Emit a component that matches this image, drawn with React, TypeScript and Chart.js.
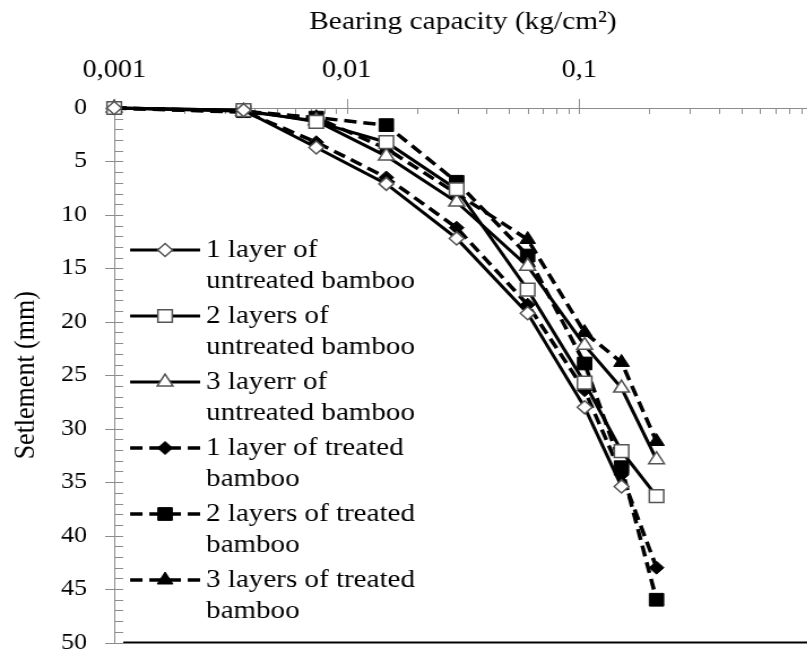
import React, { useEffect, useRef } from "react";
import { Chart, registerables } from "chart.js";

Chart.register(...registerables);

// ---- data ----
const LOADS = [0.001, 0.0036, 0.0074, 0.0148, 0.0297, 0.06, 0.1055, 0.152, 0.215];
const UNTREATED_1 = [0, 0.2, 3.7, 7.1, 12.2, 19.2, 28.0, 35.4];
const UNTREATED_2 = [0, 0.2, 1.3, 3.2, 7.6, 17.0, 25.7, 32.1, 36.3];
const UNTREATED_3 = [0, 0.3, 1.2, 4.5, 8.8, 14.8, 22.2, 26.2, 32.9];
const TREATED_1 = [0, 0.3, 3.2, 6.5, 11.2, 18.4, 26.4, 34.3, 43.0];
const TREATED_2 = [0, 0.3, 0.9, 1.6, 6.9, 13.8, 23.9, 33.6, 46.0];
const TREATED_3 = [0, 0.4, 0.9, 3.8, 8.0, 12.3, 21.0, 23.8, 31.2];

const SERIES_LABELS = [
  "1 layer of untreated bamboo",
  "2 layers of untreated bamboo",
  "3 layerr of untreated bamboo",
  "1 layer of treated bamboo",
  "2 layers of treated bamboo",
  "3 layers of treated bamboo",
];
const LEGEND_LINES = [
  ["1 layer of", "untreated bamboo"],
  ["2 layers of", "untreated bamboo"],
  ["3 layerr of", "untreated bamboo"],
  ["1 layer of treated", "bamboo"],
  ["2 layers of treated", "bamboo"],
  ["3 layers of treated", "bamboo"],
];
const X_TICK_VALUES = [0.001, 0.01, 0.1, 1];
const X_TICK_LABELS = ["0,001", "0,01", "0,1", "1"];
const Y_TICK_VALUES = [0, 5, 10, 15, 20, 25, 30, 35, 40, 45, 50];
const X_TITLE = "Bearing capacity (kg/cm\u00B2)";
const Y_TITLE = "Setlement (mm)";

// ---- layout / style ----
const S = 1.13; // horizontal stretch of the original picture
const DISPLAY_W = 840;
const H = 653;
const INT_W = Math.round(DISPLAY_W / S);
const FONT = '"Liberation Serif", "Times New Roman", serif';
const AXIS_COLOR = "#8c8c8c";

function drawMarker(ctx: CanvasRenderingContext2D, style: string, x: number, y: number, r: number, fill: string, stroke: string, bw: number) {
  ctx.beginPath();
  if (style === "rect") {
    const s = Math.SQRT1_2 * r;
    ctx.rect(x - s, y - s, 2 * s, 2 * s);
  } else if (style === "rectRot") {
    ctx.moveTo(x - r, y);
    ctx.lineTo(x, y - r);
    ctx.lineTo(x + r, y);
    ctx.lineTo(x, y + r);
    ctx.closePath();
  } else {
    const a = Math.sin((2 * Math.PI) / 3) * r;
    ctx.moveTo(x, y - r);
    ctx.lineTo(x + a, y + r / 2);
    ctx.lineTo(x - a, y + r / 2);
    ctx.closePath();
  }
  ctx.fillStyle = fill;
  ctx.fill();
  ctx.lineWidth = bw;
  ctx.strokeStyle = stroke;
  ctx.setLineDash([]);
  ctx.stroke();
}

const tickPlugin = {
  id: "axisTicks",
  beforeDatasetsDraw(chart: any) {
    const { ctx, chartArea: a, scales } = chart;
    const xs = scales.x;
    const ys = scales.y;
    ctx.save();
    ctx.strokeStyle = AXIS_COLOR;
    ctx.lineWidth = 1;
    ctx.beginPath();
    for (let d = -3; d <= 0; d++) {
      for (let k = 1; k <= 9; k++) {
        const v = k * Math.pow(10, d);
        if (v > 1.0000001) break;
        const px = Math.round(xs.getPixelForValue(v)) + 0.5;
        if (k === 1) {
          ctx.moveTo(px, a.top - 9);
          ctx.lineTo(px, a.top + 6);
        } else {
          ctx.moveTo(px, a.top);
          ctx.lineTo(px, a.top + 6);
        }
      }
    }
    for (let v = 0; v <= 50; v++) {
      const py = Math.round(ys.getPixelForValue(v)) + 0.5;
      const inner = a.left + 9 / S;
      if (v % 5 === 0) {
        ctx.moveTo(a.left - 9 / S, py);
        ctx.lineTo(inner, py);
      } else {
        ctx.moveTo(a.left, py);
        ctx.lineTo(inner, py);
      }
    }
    ctx.stroke();
    // bottom frame line
    const yb = ys.getPixelForValue(50);
    ctx.strokeStyle = "#000";
    ctx.lineWidth = 2;
    ctx.beginPath();
    ctx.moveTo(a.left + 9 / S, yb);
    ctx.lineTo(a.right, yb);
    ctx.stroke();
    ctx.restore();
  },
};

const legendPlugin = {
  id: "innerLegend",
  afterDatasetsDraw(chart: any) {
    const { ctx } = chart;
    const top = 250;
    const step = 66;
    const lineH = 31.5;
    ctx.save();
    ctx.font = `25.7px ${FONT}`;
    ctx.textBaseline = "middle";
    ctx.textAlign = "left";
    chart.data.datasets.forEach((ds: any, i: number) => {
      const y = top + i * step;
      ctx.strokeStyle = "#000";
      ctx.lineWidth = ds.borderWidth;
      ctx.setLineDash(ds.borderDash || []);
      ctx.beginPath();
      ctx.moveTo(130 / S, y);
      ctx.lineTo(200 / S, y);
      ctx.stroke();
      drawMarker(ctx, ds.pointStyle, 165 / S, y, ds.pointRadius, ds.pointBackgroundColor, ds.pointBorderColor, ds.pointBorderWidth);
      ctx.fillStyle = "#000";
      LEGEND_LINES[i].forEach((t, j) => ctx.fillText(t, 206 / S, y + j * lineH));
    });
    ctx.restore();
  },
};

function makeDataset(label: string, values: number[], style: string, filled: boolean, dashed: boolean) {
  const radius = style === "rect" ? 9 : style === "rectRot" ? 6.5 : 8;
  return {
    label,
    data: values.map((y, i) => ({ x: LOADS[i], y })),
    borderColor: "#000",
    borderWidth: dashed ? 3.5 : 3,
    borderDash: dashed ? [11, 6] : [],
    pointStyle: style,
    pointRadius: radius,
    pointHoverRadius: radius,
    pointBackgroundColor: filled ? "#000" : "#fff",
    pointBorderColor: filled ? "#000" : "#555",
    pointBorderWidth: filled ? 1 : 1.5,
    tension: 0,
    clip: false,
  };
}

export default function App() {
  const ref = useRef<HTMLCanvasElement | null>(null);

  useEffect(() => {
    if (!ref.current) return;
    const chart = new Chart(ref.current, {
      type: "line",
      data: {
        datasets: [
          makeDataset(SERIES_LABELS[0], UNTREATED_1, "rectRot", false, false),
          makeDataset(SERIES_LABELS[1], UNTREATED_2, "rect", false, false),
          makeDataset(SERIES_LABELS[2], UNTREATED_3, "triangle", false, false),
          makeDataset(SERIES_LABELS[3], TREATED_1, "rectRot", true, true),
          makeDataset(SERIES_LABELS[4], TREATED_2, "rect", true, true),
          makeDataset(SERIES_LABELS[5], TREATED_3, "triangle", true, true),
        ] as any,
      },
      options: {
        responsive: false,
        maintainAspectRatio: false,
        devicePixelRatio: 1,
        animation: false,
        events: [],
        layout: { padding: { left: 0, right: INT_W - 718, top: 0, bottom: 10 } },
        plugins: {
          legend: { display: false },
          tooltip: { enabled: false },
          title: { display: false },
        },
        scales: {
          x: {
            type: "logarithmic",
            position: "top",
            min: 0.001,
            max: 1,
            afterBuildTicks: (scale: any) => {
              scale.ticks = X_TICK_VALUES.map((v) => ({ value: v, major: true }));
            },
            afterFit: (scale: any) => {
              scale.height = 108;
              scale.paddingLeft = 0;
              scale.paddingRight = 0;
            },
            ticks: {
              autoSkip: false,
              maxRotation: 0,
              minRotation: 0,
              padding: 23,
              color: "#000",
              font: { family: FONT, size: 25 },
              callback: (_v: any, i: number) => X_TICK_LABELS[i],
            },
            grid: { display: true, drawOnChartArea: false, drawTicks: false },
            border: { display: true, color: AXIS_COLOR, width: 1 },
            title: {
              display: true,
              text: X_TITLE,
              color: "#000",
              font: { family: FONT, size: 26 },
              padding: { top: 7, bottom: 0 },
            },
          },
          y: {
            type: "linear",
            reverse: true,
            min: 0,
            max: 50,
            afterBuildTicks: (scale: any) => {
              scale.ticks = Y_TICK_VALUES.map((v) => ({ value: v }));
            },
            afterFit: (scale: any) => {
              scale.width = 101;
              scale.paddingTop = 0;
              scale.paddingBottom = 0;
            },
            ticks: {
              padding: 24,
              color: "#000",
              font: { family: FONT, size: 23 },
            },
            grid: { display: true, drawOnChartArea: false, drawTicks: false },
            border: { display: true, color: AXIS_COLOR, width: 1 },
            title: {
              display: true,
              text: Y_TITLE,
              color: "#000",
              font: { family: FONT, size: 26 },
              padding: { top: 8, bottom: 0 },
            },
          },
        },
      } as any,
      plugins: [tickPlugin, legendPlugin],
    });
    return () => chart.destroy();
  }, []);

  return (
    <div
      style={{
        position: "fixed",
        left: 0,
        top: 0,
        width: 807,
        height: 653,
        overflow: "hidden",
        background: "#fff",
      }}
    >
      <canvas
        ref={ref}
        width={INT_W}
        height={H}
        style={{ width: `${DISPLAY_W}px`, height: `${H}px`, display: "block" }}
      />
    </div>
  );
}
